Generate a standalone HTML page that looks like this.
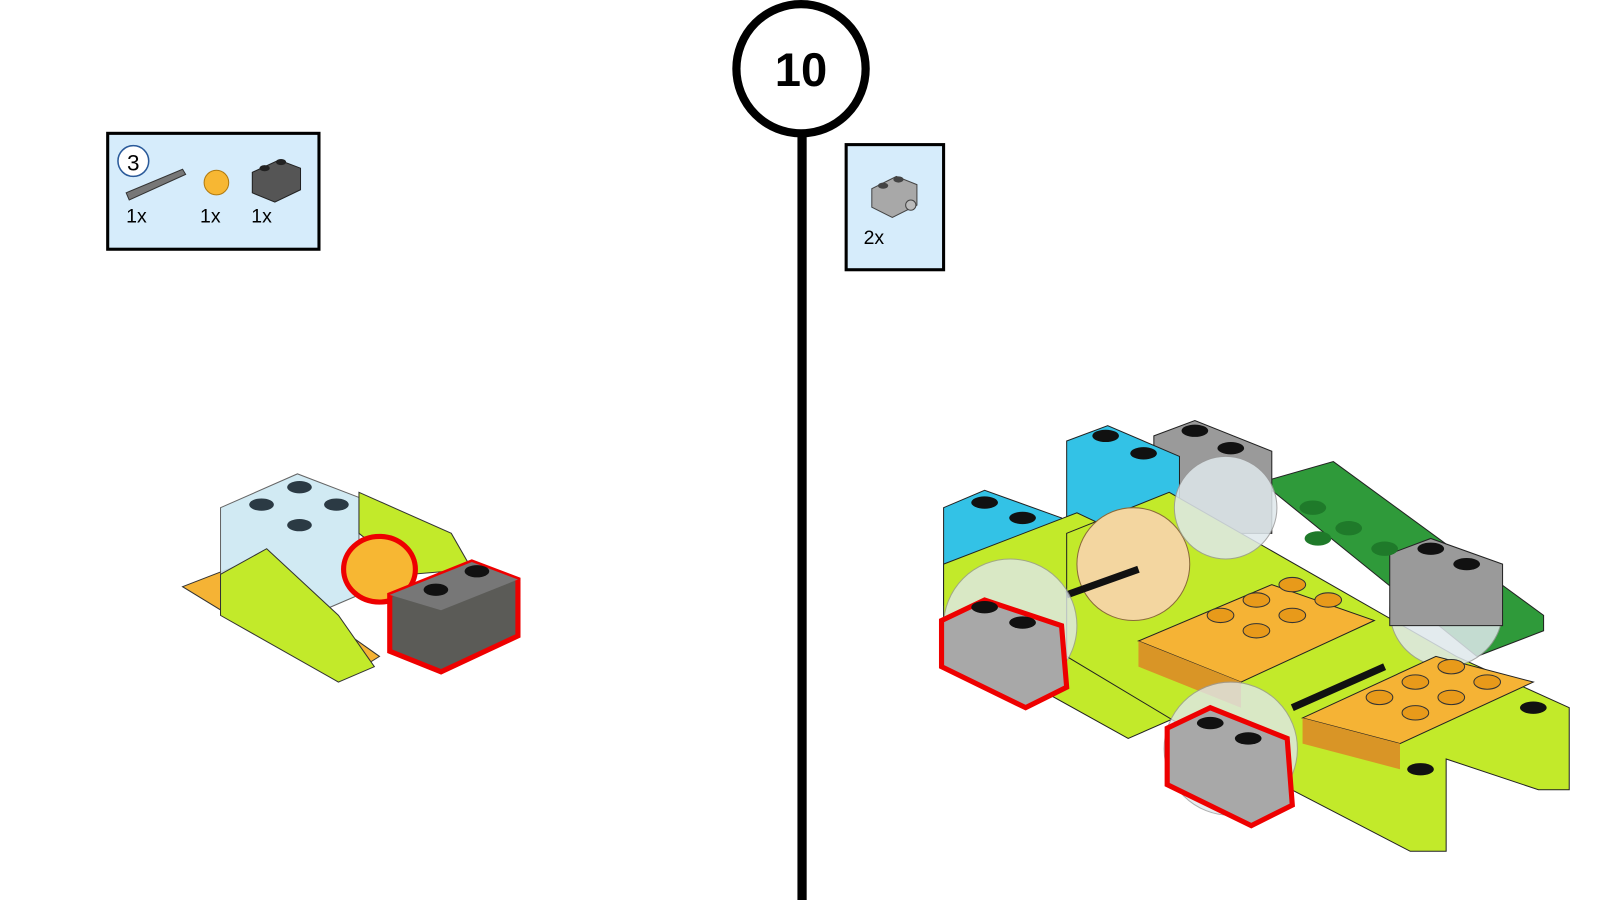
<!DOCTYPE html>
<html><head><meta charset="utf-8"><style>
html,body{margin:0;padding:0;background:#fff;width:1600px;height:900px;overflow:hidden;font-family:"Liberation Sans",sans-serif}
</style></head><body>
<svg width="1600" height="900" viewBox="0 0 1560 877.5" xmlns="http://www.w3.org/2000/svg">
<line x1="782" y1="128" x2="782" y2="878" stroke="#000" stroke-width="9"/>
<circle cx="781" cy="67" r="63" fill="#fff" stroke="#000" stroke-width="8"/>
<text x="781" y="84" text-anchor="middle" font-size="46" font-weight="bold" font-family="Liberation Sans,sans-serif">10</text>

<rect x="105" y="130" width="206" height="113" fill="#d6ecfb" stroke="#000" stroke-width="3"/>
<circle cx="130" cy="157" r="15" fill="#fff" stroke="#2a5a9a" stroke-width="1.5"/>
<text x="130" y="166" text-anchor="middle" font-size="22">3</text>
<polygon points="123,188 178,165 181,170 126,195" fill="#777" stroke="#333"/>
<circle cx="211" cy="178" r="12" fill="#f7b733" stroke="#b07a10"/>
<polygon points="246,168 272,156 293,164 293,185 268,197 246,188" fill="#555" stroke="#222"/>
<ellipse cx="258" cy="164" rx="5" ry="3" fill="#222"/><ellipse cx="274" cy="158" rx="5" ry="3" fill="#222"/>
<text x="123" y="217" font-size="19">1x</text>
<text x="195" y="217" font-size="19">1x</text>
<text x="245" y="217" font-size="19">1x</text>

<rect x="825" y="141" width="95" height="122" fill="#d6ecfb" stroke="#000" stroke-width="3"/>
<polygon points="850,184 874,172 894,180 894,200 870,212 850,202" fill="#a8a8a8" stroke="#444"/>
<ellipse cx="861" cy="181" rx="5" ry="3" fill="#444"/><ellipse cx="876" cy="175" rx="5" ry="3" fill="#444"/>
<circle cx="888" cy="200" r="5" fill="#bbb" stroke="#444"/>
<text x="842" y="238" font-size="19">2x</text>

<polygon points="178,572 240,548 370,640 330,665" fill="#f5b335" stroke="#333"/>
<polygon points="215,495 290,462 350,485 350,580 280,610 215,580" fill="#cde8f2" stroke="#555" opacity="0.9"/>
<polygon points="350,480 440,520 460,555 400,560 350,520" fill="#c2ea2a" stroke="#333"/>
<polygon points="215,560 260,535 330,600 365,650 330,665 215,600" fill="#c2ea2a" stroke="#333"/>
<ellipse cx="370" cy="555" rx="35" ry="32" fill="#f7b733" stroke="#e00" stroke-width="5"/>
<polygon points="380,580 460,548 505,565 505,620 430,655 380,635" fill="#5b5b57" stroke="#e00" stroke-width="5"/>
<polygon points="380,580 460,548 505,565 430,595" fill="#777"/>
<ellipse cx="425" cy="575" rx="12" ry="6" fill="#111"/><ellipse cx="465" cy="557" rx="12" ry="6" fill="#111"/>
<ellipse cx="255" cy="492" rx="12" ry="6" fill="#2b3a44"/><ellipse cx="292" cy="475" rx="12" ry="6" fill="#2b3a44"/><ellipse cx="328" cy="492" rx="12" ry="6" fill="#2b3a44"/><ellipse cx="292" cy="512" rx="12" ry="6" fill="#2b3a44"/>

<polygon points="1230,470 1300,450 1505,600 1505,615 1440,640" fill="#2f9a3a" stroke="#222"/>
<polygon points="1125,425 1165,410 1240,440 1240,520 1125,520" fill="#9a9a9a" stroke="#222"/>
<polygon points="1040,430 1080,415 1150,445 1150,520 1040,520" fill="#33c2e6" stroke="#222"/>
<polygon points="920,495 960,478 1035,505 1035,590 920,590" fill="#33c2e6" stroke="#222"/>
<polygon points="920,550 1050,500 1240,590 1260,650 1100,720 920,620" fill="#c2ea2a" stroke="#222"/>
<polygon points="1040,520 1140,480 1420,640 1530,690 1530,770 1500,770 1410,740 1410,830 1375,830 1240,760 1040,640" fill="#c2ea2a" stroke="#222"/>
<circle cx="1105" cy="550" r="55" fill="#f3d6a0" stroke="#8a6a3a"/>
<circle cx="1195" cy="495" r="50" fill="#dfe8ec" stroke="#999" opacity="0.85"/>
<circle cx="1410" cy="595" r="55" fill="#dfe8ec" stroke="#999" opacity="0.85"/>
<polygon points="1355,540 1395,525 1465,550 1465,610 1355,610" fill="#9a9a9a" stroke="#222"/>
<polygon points="1110,625 1240,570 1340,605 1210,665" fill="#f5b335" stroke="#222"/>
<polygon points="1270,700 1400,640 1495,665 1365,725" fill="#f5b335" stroke="#222"/>
<polygon points="1110,625 1210,665 1210,690 1110,650" fill="#d99526"/>
<polygon points="1270,700 1365,725 1365,750 1270,725" fill="#d99526"/>
<line x1="1040" y1="580" x2="1110" y2="555" stroke="#111" stroke-width="7"/>
<line x1="1260" y1="690" x2="1350" y2="650" stroke="#111" stroke-width="7"/>
<circle cx="985" cy="610" r="65" fill="#dfe8ec" stroke="#999" opacity="0.8"/>
<circle cx="1200" cy="730" r="65" fill="#dfe8ec" stroke="#999" opacity="0.8"/>
<polygon points="918,605 960,585 1035,610 1040,670 1000,690 918,650" fill="#a8a8a8" stroke="#e00" stroke-width="5"/>
<polygon points="1138,710 1180,690 1255,720 1260,785 1220,805 1138,765" fill="#a8a8a8" stroke="#e00" stroke-width="5"/>
<g fill="#111">
<ellipse cx="960" cy="592" rx="13" ry="6"/><ellipse cx="997" cy="607" rx="13" ry="6"/>
<ellipse cx="1180" cy="705" rx="13" ry="6"/><ellipse cx="1217" cy="720" rx="13" ry="6"/>
<ellipse cx="960" cy="490" rx="13" ry="6"/><ellipse cx="997" cy="505" rx="13" ry="6"/>
<ellipse cx="1078" cy="425" rx="13" ry="6"/><ellipse cx="1115" cy="442" rx="13" ry="6"/>
<ellipse cx="1165" cy="420" rx="13" ry="6"/><ellipse cx="1200" cy="437" rx="13" ry="6"/>
<ellipse cx="1395" cy="535" rx="13" ry="6"/><ellipse cx="1430" cy="550" rx="13" ry="6"/>
<ellipse cx="1495" cy="690" rx="13" ry="6"/><ellipse cx="1385" cy="750" rx="13" ry="6"/>
</g>
<g fill="#e89a1a" stroke="#333">
<ellipse cx="1190" cy="600" rx="13" ry="7"/><ellipse cx="1225" cy="585" rx="13" ry="7"/><ellipse cx="1260" cy="570" rx="13" ry="7"/>
<ellipse cx="1225" cy="615" rx="13" ry="7"/><ellipse cx="1260" cy="600" rx="13" ry="7"/><ellipse cx="1295" cy="585" rx="13" ry="7"/>
<ellipse cx="1345" cy="680" rx="13" ry="7"/><ellipse cx="1380" cy="665" rx="13" ry="7"/><ellipse cx="1415" cy="650" rx="13" ry="7"/>
<ellipse cx="1380" cy="695" rx="13" ry="7"/><ellipse cx="1415" cy="680" rx="13" ry="7"/><ellipse cx="1450" cy="665" rx="13" ry="7"/>
</g>
<g fill="#1f7a2a"><ellipse cx="1280" cy="495" rx="13" ry="7"/><ellipse cx="1315" cy="515" rx="13" ry="7"/><ellipse cx="1350" cy="535" rx="13" ry="7"/><ellipse cx="1285" cy="525" rx="13" ry="7"/></g>
</svg>
</body></html>
